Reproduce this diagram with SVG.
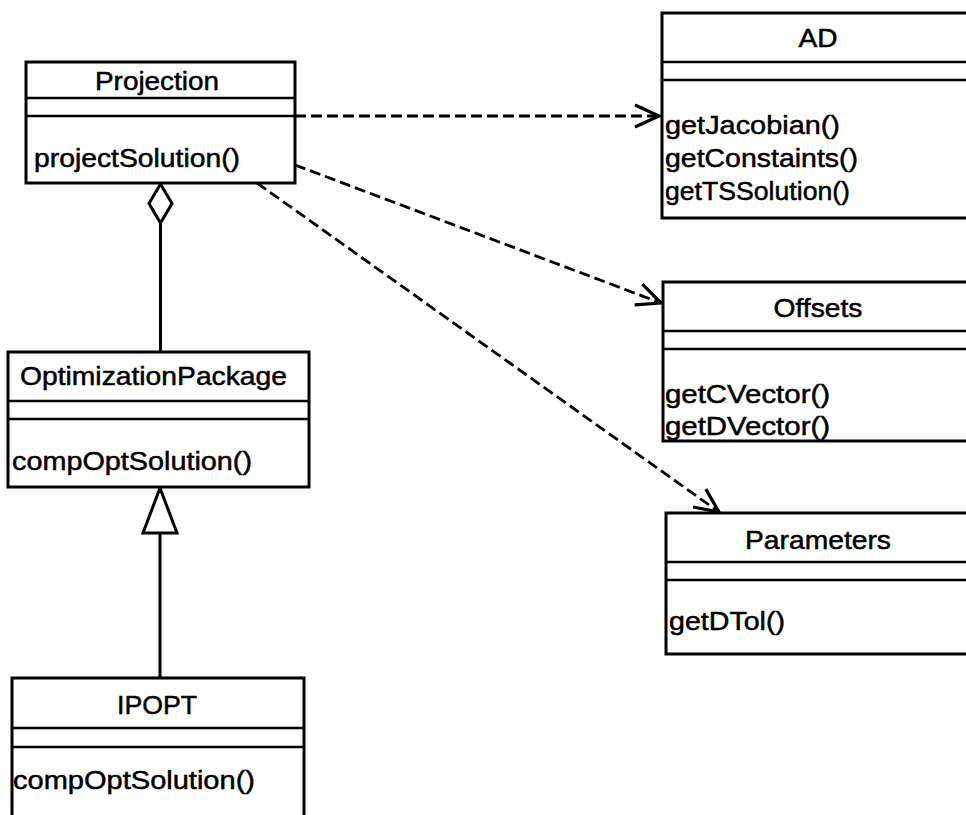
<svg xmlns="http://www.w3.org/2000/svg" width="966" height="815" viewBox="0 0 966 815">
  <style>
    .box { fill: #ffffff; stroke: #000000; stroke-width: 3; }
    .div { stroke: #000000; stroke-width: 2.5; }
    .t { font-family: "Liberation Sans", Arial, sans-serif; font-size: 26px; fill: #000000; stroke: #000000; stroke-width: 0.5px; }
    .c { text-anchor: middle; }
    .dash { fill: none; stroke: #000000; stroke-width: 2.8; stroke-dasharray: 11 5; }
    .solid { fill: none; stroke: #000000; stroke-width: 3; }
  </style>
  <defs>
    <marker id="open" markerUnits="userSpaceOnUse" markerWidth="40" markerHeight="40" viewBox="-30 -20 34 40" refX="0" refY="0" orient="auto">
      <path d="M -24 -11 L 0 0 L -24 11" fill="none" stroke="#000000" stroke-width="3.2"/>
    </marker>
  </defs>
  <rect width="966" height="815" fill="#ffffff"/>

  <g id="connectors">
    <line class="dash" x1="295" y1="116" x2="659" y2="116" marker-end="url(#open)"/>
    <line class="dash" x1="295" y1="165" x2="661" y2="303" marker-end="url(#open)"/>
    <line class="dash" x1="257" y1="183" x2="719" y2="512" marker-end="url(#open)"/>
    <line class="solid" x1="160.5" y1="223" x2="160.5" y2="352"/>
    <path class="solid" fill="#ffffff" d="M160.5 184 L172 203.5 L160.5 223 L149 203.5 Z"/>
    <line class="solid" x1="160" y1="533" x2="160" y2="678"/>
    <path class="solid" fill="#ffffff" d="M160 488 L177 533 L143 533 Z"/>
  </g>

  <g id="Projection">
    <rect class="box" x="26" y="62" width="269" height="121"/>
    <line class="div" x1="26" y1="98" x2="295" y2="98"/>
    <line class="div" x1="26" y1="116" x2="295" y2="116"/>
    <text class="t c" x="157" y="90" textLength="124" lengthAdjust="spacingAndGlyphs">Projection</text>
    <text class="t" x="34" y="167" textLength="206" lengthAdjust="spacingAndGlyphs">projectSolution()</text>
  </g>

  <g id="OptimizationPackage">
    <rect class="box" x="8" y="352" width="301" height="135"/>
    <line class="div" x1="8" y1="401" x2="309" y2="401"/>
    <line class="div" x1="8" y1="419" x2="309" y2="419"/>
    <text class="t" x="20" y="385" textLength="267" lengthAdjust="spacingAndGlyphs">OptimizationPackage</text>
    <text class="t" x="12" y="470" textLength="240" lengthAdjust="spacingAndGlyphs">compOptSolution()</text>
  </g>

  <g id="IPOPT">
    <rect class="box" x="12" y="678" width="292" height="160"/>
    <line class="div" x1="12" y1="728" x2="304" y2="728"/>
    <line class="div" x1="12" y1="747" x2="304" y2="747"/>
    <text class="t c" x="157" y="714" textLength="80" lengthAdjust="spacingAndGlyphs">IPOPT</text>
    <text class="t" x="13" y="789" textLength="242" lengthAdjust="spacingAndGlyphs">compOptSolution()</text>
  </g>

  <g id="AD">
    <rect class="box" x="662" y="13" width="314" height="205"/>
    <line class="div" x1="662" y1="62" x2="976" y2="62"/>
    <line class="div" x1="662" y1="80" x2="976" y2="80"/>
    <text class="t c" x="818" y="47" textLength="39" lengthAdjust="spacingAndGlyphs">AD</text>
    <text class="t" x="665" y="134" textLength="175" lengthAdjust="spacingAndGlyphs">getJacobian()</text>
    <text class="t" x="665" y="167" textLength="193" lengthAdjust="spacingAndGlyphs">getConstaints()</text>
    <text class="t" x="665" y="200" textLength="185" lengthAdjust="spacingAndGlyphs">getTSSolution()</text>
  </g>

  <g id="Offsets">
    <rect class="box" x="663" y="282" width="313" height="159"/>
    <line class="div" x1="663" y1="331" x2="976" y2="331"/>
    <line class="div" x1="663" y1="349" x2="976" y2="349"/>
    <text class="t c" x="818" y="317" textLength="89" lengthAdjust="spacingAndGlyphs">Offsets</text>
    <text class="t" x="665" y="403" textLength="165" lengthAdjust="spacingAndGlyphs">getCVector()</text>
    <text class="t" x="665" y="435" textLength="165" lengthAdjust="spacingAndGlyphs">getDVector()</text>
  </g>

  <g id="Parameters">
    <rect class="box" x="666" y="513" width="310" height="141"/>
    <line class="div" x1="666" y1="562" x2="976" y2="562"/>
    <line class="div" x1="666" y1="580" x2="976" y2="580"/>
    <text class="t c" x="818" y="549" textLength="146" lengthAdjust="spacingAndGlyphs">Parameters</text>
    <text class="t" x="669" y="630" textLength="116" lengthAdjust="spacingAndGlyphs">getDTol()</text>
  </g>
</svg>
